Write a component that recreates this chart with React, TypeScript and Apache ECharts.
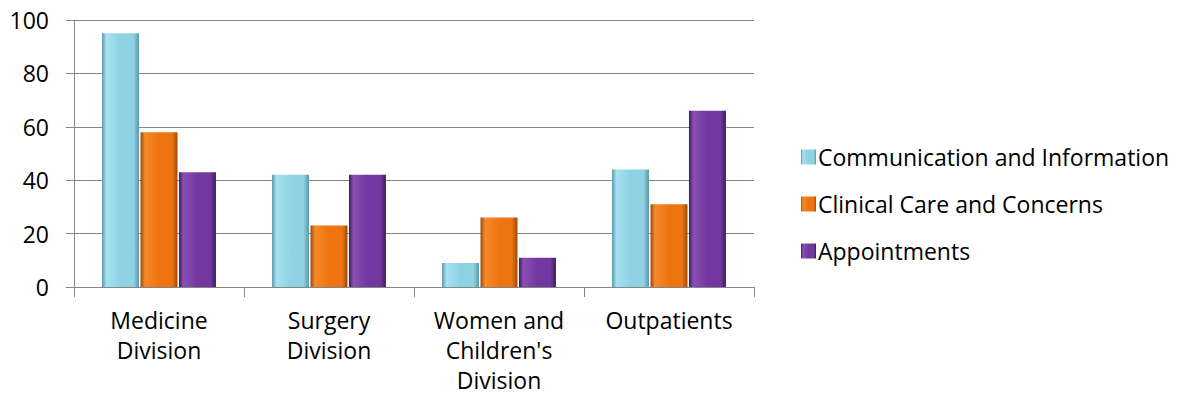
import React, { useEffect, useRef } from "react";
import * as echarts from "echarts";

const categories = [
  "Medicine\nDivision",
  "Surgery\nDivision",
  "Women and\nChildren's\nDivision",
  "Outpatients",
];
const communication = [95, 42, 9, 44];
const clinical = [58, 23, 26, 31];
const appointments = [43, 42, 11, 66];
const yTicks = { min: 0, max: 100, interval: 20 };

const FONT = "'Open Sans', sans-serif";

// Horizontal bevel shading: dark rims, lighter face.
function bevel(dark: string, light: string, mid: string) {
  return new echarts.graphic.LinearGradient(0, 0, 1, 0, [
    { offset: 0, color: dark },
    { offset: 0.12, color: light },
    { offset: 0.5, color: mid },
    { offset: 0.85, color: mid },
    { offset: 1, color: dark },
  ]);
}

export default function App() {
  const ref = useRef<HTMLDivElement>(null);

  useEffect(() => {
    if (!ref.current) return;
    const chart = echarts.init(ref.current, null, { renderer: "svg" });
    const seriesDefs = [
      {
        name: "Communication and Information",
        data: communication,
        color: bevel("#5b97a8", "#a6e2f0", "#8fd2e4"),
      },
      {
        name: "Clinical Care and Concerns",
        data: clinical,
        color: bevel("#9c4a06", "#f5892a", "#ee7411"),
      },
      {
        name: "Appointments",
        data: appointments,
        color: bevel("#3e1c58", "#8a50b4", "#7338a0"),
      },
    ];
    chart.setOption({
      animation: false,
      textStyle: { fontFamily: FONT },
      grid: { left: 74, right: 424, top: 20, bottom: 112, outerBoundsMode: "none" },
      legend: {
        orient: "vertical",
        left: 796,
        top: 138,
        icon: "rect",
        itemWidth: 15,
        itemHeight: 15,
        itemGap: 19,
        textStyle: { fontFamily: FONT, fontSize: 23, color: "#000", lineHeight: 28, padding: [0, 0, 0, -3] },
        data: seriesDefs.map((s) => s.name),
      },
      xAxis: {
        type: "category",
        data: categories,
        axisLine: { lineStyle: { color: "#868686", width: 1 } },
        axisTick: { show: true, length: 10, alignWithLabel: false, lineStyle: { color: "#868686" } },
        axisLabel: {
          fontFamily: FONT,
          fontSize: 23,
          color: "#000",
          lineHeight: 30,
          margin: 18,
          interval: 0,
        },
      },
      yAxis: {
        type: "value",
        min: yTicks.min,
        max: yTicks.max,
        interval: yTicks.interval,
        axisLine: { show: true, lineStyle: { color: "#868686", width: 1 } },
        axisTick: { show: true, length: 8, lineStyle: { color: "#868686" } },
        axisLabel: { fontFamily: FONT, fontSize: 23, color: "#000", margin: 25 },
        splitLine: { lineStyle: { color: "#868686", width: 1 } },
      },
      series: seriesDefs.map((s) => ({
        type: "bar",
        name: s.name,
        data: s.data,
        barGap: "4%",
        barCategoryGap: "33%",
        itemStyle: { color: s.color },
      })),
    });
    return () => chart.dispose();
  }, []);

  return <div ref={ref} style={{ width: 1178, height: 399, margin: -8 }} />;
}
